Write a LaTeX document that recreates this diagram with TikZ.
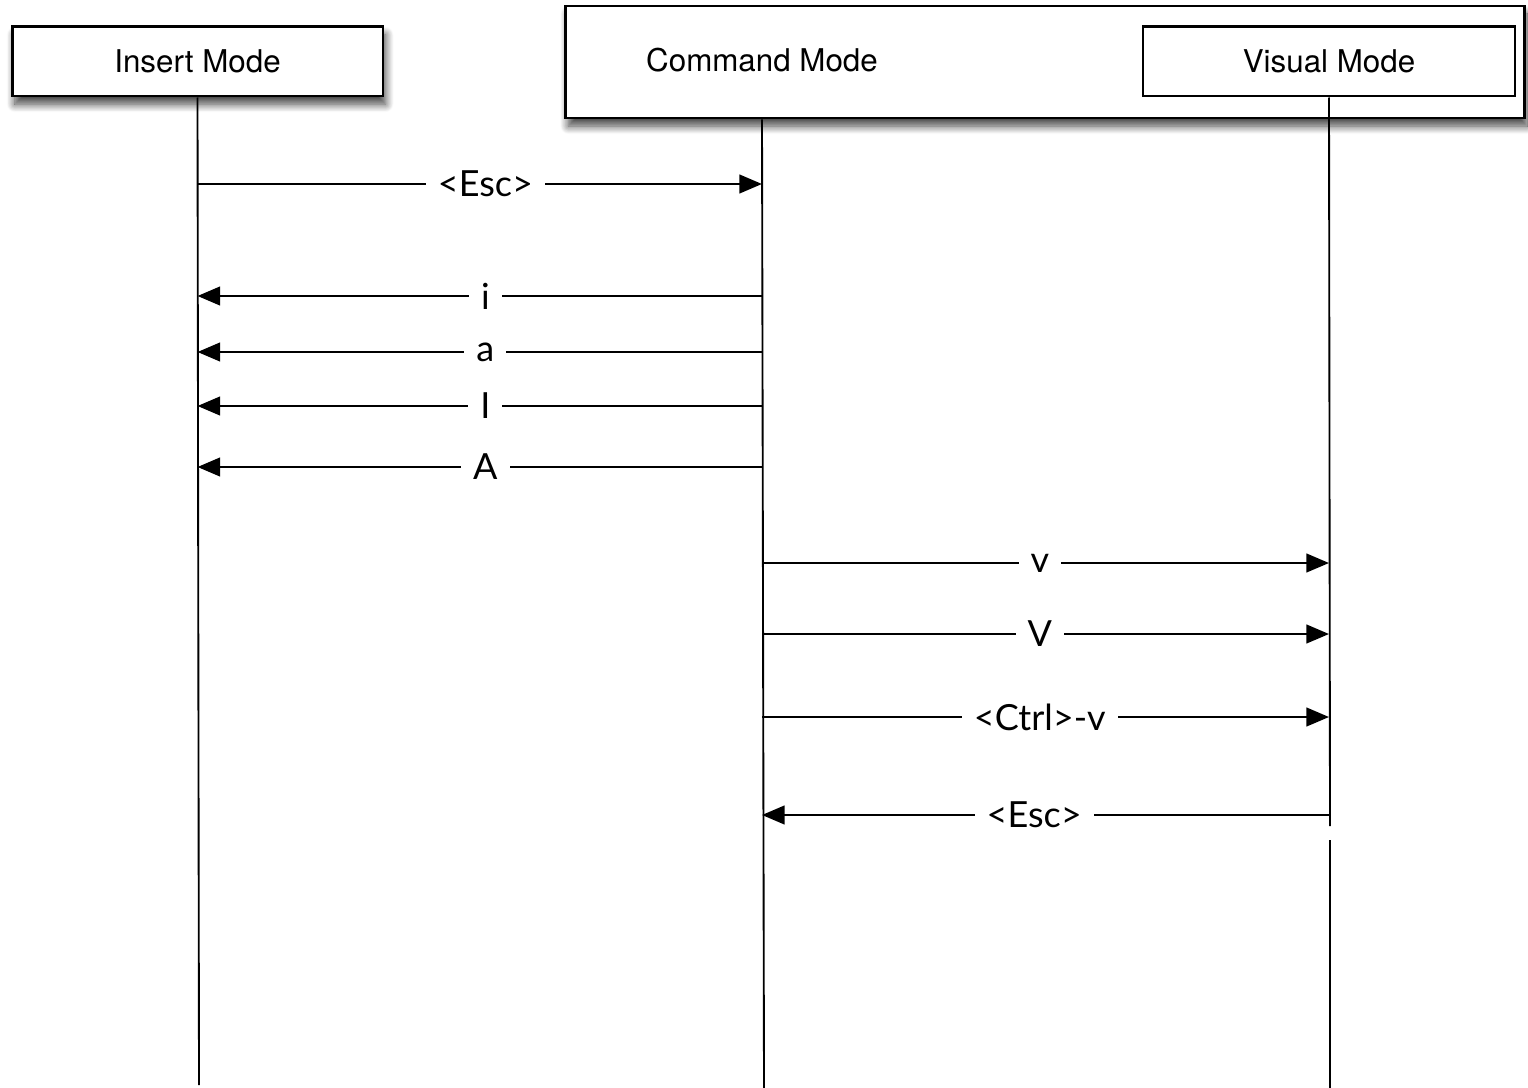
\documentclass[tikz,border=0pt]{standalone}
\usepackage{fontspec}
\setmainfont{TeX Gyre Heros}
\newfontfamily\keyfont{Lato}
\usetikzlibrary{arrows.meta,shadows.blur}

\begin{document}
\begin{tikzpicture}[x=0.75pt,y=0.75pt,yscale=-1,xscale=1,
  modebox/.style={draw,line width=2pt,fill=white,inner sep=0pt,font=\fontsize{23.5}{27}\selectfont},
  shadowed/.style={blur shadow={shadow xshift=2pt,shadow yshift=-6pt,shadow blur radius=6pt,shadow blur steps=12,shadow opacity=75}},
  life/.style={line width=1.4pt},
  msg/.style={line width=1.8pt,-{Triangle[length=17pt,width=14pt]}},
  keylbl/.style={fill=white,inner xsep=9pt,inner ysep=1pt,font=\keyfont\fontsize{27}{32}\selectfont}]
\useasboundingbox (0,0) rectangle (1528,1088);

% Mode boxes
\node[modebox,shadowed,minimum width=278pt,minimum height=52pt] (ins) at (197.5,61.5) {Insert Mode};
\node[modebox,shadowed,minimum width=719pt,minimum height=84pt] (cmdbox) at (1045,62) {};
\node[font=\fontsize{23.5}{27}\selectfont] (cmd) at (762,60) {Command Mode};
\node[modebox,minimum width=279pt,minimum height=52pt] (vis) at (1329,61.5) {Visual Mode};

% Lifelines
\coordinate (insend) at (199,1085);
\coordinate (cmdend) at (764,1088);
\coordinate (visgap) at (1330,826);
\coordinate (visrest) at (1330,840);
\coordinate (visend) at (1330,1088);
\draw[life] (ins.south) -- (insend);
\draw[life] (cmd |- cmdbox.south) -- (cmdend);
\draw[life] (vis.south) -- (visgap);
\draw[life] (visrest) -- (visend);

% Insert -> Command
\draw[msg] (ins |- 0,184) -- node[keylbl,pos=0.51] (escin) {<Esc>} (cmd |- 0,184);

% Command -> Insert
\draw[msg] (cmd |- 0,296) -- node[keylbl,pos=0.49] (keyi) {i} (ins |- 0,296);
\draw[msg] (cmd |- 0,352) -- node[keylbl,pos=0.49] (keya) {a} (ins |- 0,352);
\draw[msg] (cmd |- 0,406) -- node[keylbl,pos=0.49] (keyI) {I} (ins |- 0,406);
\draw[msg] (cmd |- 0,467) -- node[keylbl,pos=0.49] (keyA) {A} (ins |- 0,467);

% Command -> Visual
\draw[msg] (cmd |- 0,563) -- node[keylbl,pos=0.49] (keyv) {v} (vis |- 0,563);
\draw[msg] (cmd |- 0,634) -- node[keylbl,pos=0.49] (keyV) {V} (vis |- 0,634);
\draw[msg] (cmd |- 0,717) -- node[keylbl,pos=0.49] (keyctrl) {<Ctrl>-v} (vis |- 0,717);

% Visual -> Command
\draw[msg] (vis |- 0,815) -- node[keylbl,pos=0.52] (escvis) {<Esc>} (cmd |- 0,815);

\end{tikzpicture}
\end{document}
